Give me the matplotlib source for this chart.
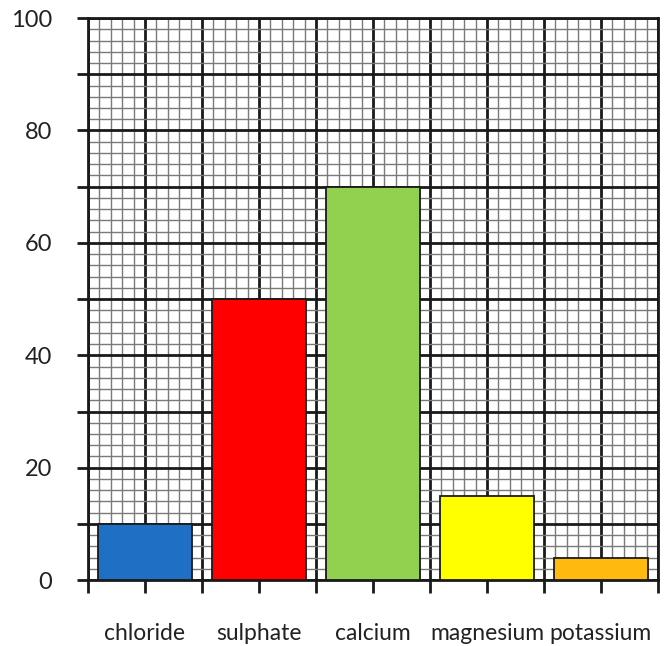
import matplotlib

matplotlib.use("Agg")

import matplotlib.pyplot as plt
import numpy as np

# data
categories = ["chloride", "sulphate", "calcium", "magnesium", "potassium"]
values = [10, 50, 70, 15, 4]
bar_colors = ["#1F6FC4", "#FF0000", "#92D050", "#FFFF00", "#FFB90F"]
y_labels = ["0", "", "20", "", "40", "", "60", "", "80", "", "100"]

plt.rcParams["font.family"] = ["Lato", "DejaVu Sans"]

fig = plt.figure(figsize=(6.66, 6.46), dpi=100)
ax = fig.add_axes([0.132, 0.102, 0.856, 0.870])

x = np.arange(len(categories)) + 0.5
ax.bar(x, values, width=0.83, color=bar_colors, edgecolor="#1a1a1a",
       linewidth=1.3, zorder=3)

ax.set_xlim(0, len(categories))
ax.set_ylim(0, 100)

# thick grid every 10 units / half category, thin grid in between
ax.set_xticks(np.arange(0, len(categories) + 0.01, 0.5))
ax.set_xticks(np.arange(0, len(categories) + 0.01, 0.1), minor=True)
ax.set_yticks(np.arange(0, 101, 10))
ax.set_yticks(np.arange(0, 101, 2), minor=True)

xlab = []
for t in np.arange(0, len(categories) + 0.01, 0.5):
    idx = int(t - 0.5) if abs(t % 1 - 0.5) < 1e-6 else None
    xlab.append(categories[idx] if idx is not None else "")
ax.set_xticklabels(xlab)
ax.set_yticklabels(y_labels)

ax.grid(which="minor", color="#7a7a7a", linewidth=1.0, zorder=0)
ax.grid(which="major", color="#1a1a1a", linewidth=2.0, zorder=1)
ax.set_axisbelow(True)

ax.tick_params(axis="x", which="major", length=9, width=2, color="#1a1a1a",
               pad=22, labelsize=16.5, labelcolor="#222222")
ax.tick_params(axis="y", which="major", length=8, width=2, color="#1a1a1a",
               pad=18, labelsize=17, labelcolor="#222222")
ax.tick_params(which="minor", length=0)

for s in ax.spines.values():
    s.set_linewidth(2.0)
    s.set_color("#1a1a1a")

fig.savefig("out.png", dpi=100)
